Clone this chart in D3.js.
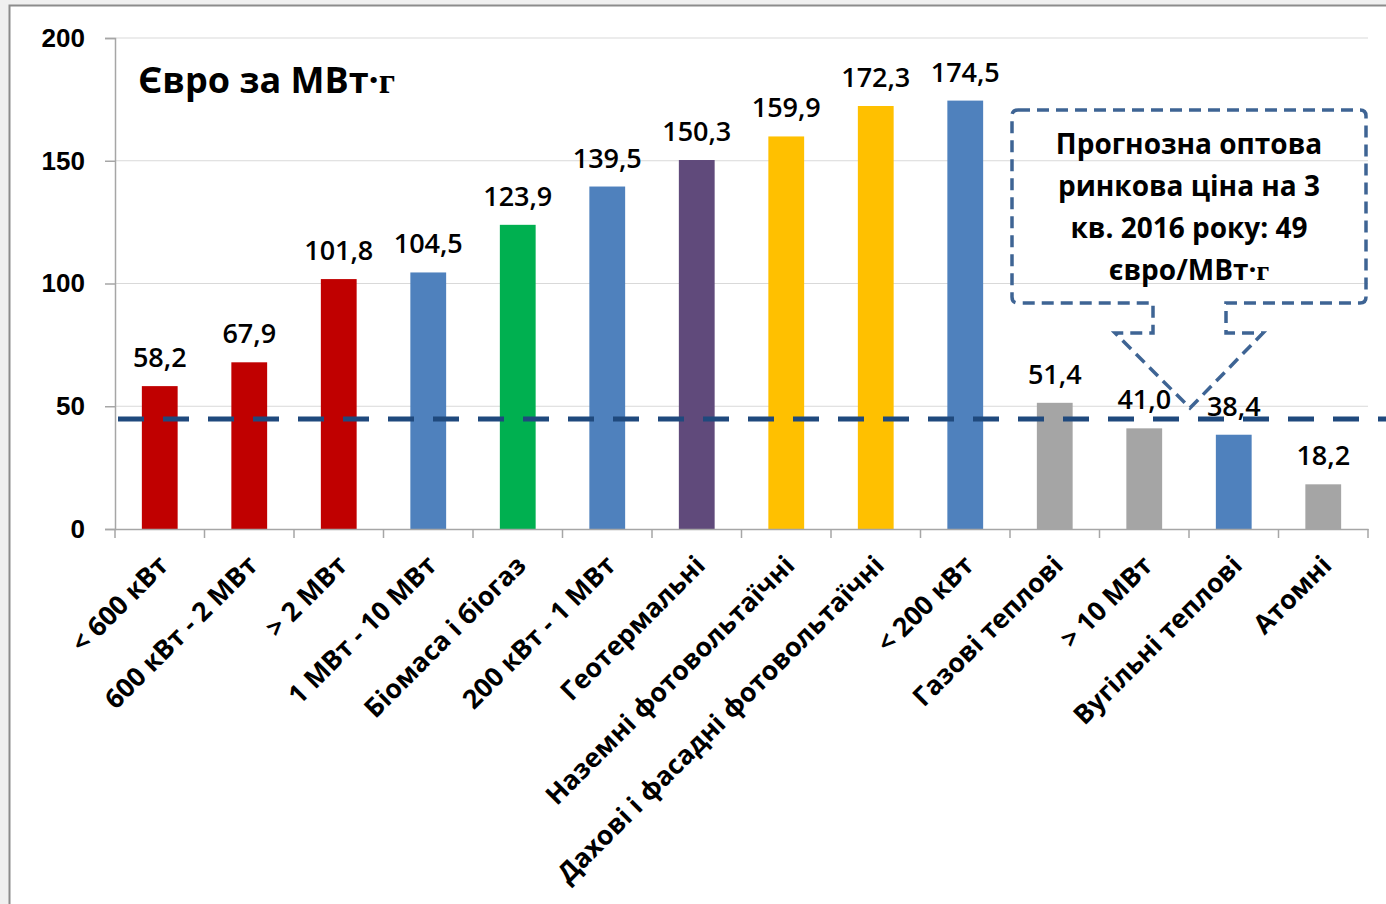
<!DOCTYPE html>
<html>
<head>
<meta charset="utf-8">
<script src="https://cdn.jsdelivr.net/npm/d3@7"></script>
<style>
  body { margin:0; background:#f0f0f0; }
  svg { display:block; font-family:"Open Sans", "Noto Sans", sans-serif; }
</style>
</head>
<body>
<svg id="chart" width="1386" height="904"></svg>
<script>
var categories = ["< 600 кВт", "600 кВт - 2 МВт", "> 2 МВт", "1 МВт - 10 МВт", "Біомаса і біогаз",
                  "200 кВт - 1 МВт", "Геотермальні", "Наземні фотовольтаїчні", "Дахові і фасадні фотовольтаїчні",
                  "< 200 кВт", "Газові теплові", "> 10 МВт", "Вугільні теплові", "Атомні"]
var values = [58.2, 67.9, 101.8, 104.5, 123.9, 139.5, 150.3, 159.9, 172.3, 174.5, 51.4, 41.0, 38.4, 18.2]
var groups = ["red", "red", "red", "blue", "green", "blue", "purple", "yellow", "yellow", "blue", "gray", "gray", "blue", "gray"]
var yTicks = [0, 50, 100, 150, 200]
var priceLine = 44.8
var calloutLines = ["Прогнозна оптова", "ринкова ціна на 3", "кв. 2016 року: 49", "євро/МВт·г"]

var palette = {red:"#c00000", blue:"#4f81bd", green:"#00b050", purple:"#604a7b", yellow:"#ffc000", gray:"#a5a5a5"}

var svg = d3.select("#chart")
var margin = {top:38, left:115, right:18, bottom:375}
var W = 1386, H = 904

// chart frame
svg.append("rect").attr("x", 9.5).attr("y", 5.5).attr("width", W).attr("height", H)
   .attr("fill", "white").attr("stroke", "#8c8c8c").attr("stroke-width", 2)

var x = d3.scaleBand().domain(categories).range([margin.left, W - margin.right]).paddingInner(0).paddingOuter(0)
var y = d3.scaleLinear().domain([0, 200]).range([529, margin.top])

// gridlines
svg.append("g").selectAll("line").data(yTicks.slice(1)).enter().append("line")
   .attr("x1", margin.left).attr("x2", W - margin.right)
   .attr("y1", function(d){ return y(d) }).attr("y2", function(d){ return y(d) })
   .attr("stroke", "#d9d9d9").attr("stroke-width", 1.2)

// y axis
var yAxis = svg.append("g").attr("transform", "translate(" + margin.left + ",0)")
   .call(d3.axisLeft(y).tickValues(yTicks).tickSize(10).tickPadding(20))
yAxis.select(".domain").attr("stroke", "#a6a6a6").attr("stroke-width", 1.5)
yAxis.selectAll(".tick line").attr("stroke", "#a6a6a6").attr("stroke-width", 1.5)
yAxis.selectAll(".tick text").attr("font-size", 26).attr("font-weight", 600).attr("fill", "#000")

// bars
svg.append("g").selectAll("rect").data(values).enter().append("rect")
   .attr("x", function(d, i){ return x(categories[i]) + x.bandwidth() * 0.3 })
   .attr("width", x.bandwidth() * 0.4)
   .attr("y", function(d){ return y(d) })
   .attr("height", function(d){ return y(0) - y(d) })
   .attr("fill", function(d, i){ return palette[groups[i]] })

// x axis
var xAxis = svg.append("g").attr("transform", "translate(0," + y(0) + ")")
   .call(d3.axisBottom(x).tickSize(0).tickFormat(""))
xAxis.select(".domain").attr("stroke", "#a6a6a6").attr("stroke-width", 1.5)
svg.append("g").selectAll("line").data(d3.range(categories.length + 1)).enter().append("line")
   .attr("x1", function(i){ return margin.left + i * x.step() })
   .attr("x2", function(i){ return margin.left + i * x.step() })
   .attr("y1", y(0)).attr("y2", y(0) + 9)
   .attr("stroke", "#a6a6a6").attr("stroke-width", 1.5)

// category labels
svg.append("g").selectAll("text").data(categories).enter().append("text")
   .attr("transform", function(d){ return "translate(" + (x(d) + x.bandwidth() / 2 + 10) + "," + (y(0) + 38) + ") rotate(-45)" })
   .attr("text-anchor", "end")
   .attr("font-size", 26.5).attr("font-weight", 700)
   .text(function(d){ return d })

// value labels
svg.append("g").selectAll("text").data(values).enter().append("text")
   .attr("x", function(d, i){ return x(categories[i]) + x.bandwidth() / 2 })
   .attr("y", function(d){ return y(d) - 19 })
   .attr("text-anchor", "middle").attr("font-size", 27).attr("font-weight", 600)
   .text(function(d){ return d3.format(".1f")(d).replace(".", ",") })

// price line
svg.append("line").attr("x1", margin.left + 3).attr("x2", W)
   .attr("y1", y(priceLine)).attr("y2", y(priceLine))
   .attr("stroke", "#1f497d").attr("stroke-width", 5).attr("stroke-dasharray", "26,19")

// title
var title = svg.append("text").attr("x", 138).attr("y", 93).attr("font-size", 36).attr("font-weight", 700)
title.append("tspan").text("Євро за МВт·")
title.append("tspan").attr("font-family", "Liberation Serif, serif").text("г")

// callout
var bx0 = 1012, bx1 = 1366, by0 = 110, by1 = 303
var tipX = 1190, tipY = y(priceLine) - 11
var path = d3.path()
path.moveTo(bx0 + 6, by0)
path.lineTo(bx1 - 6, by0); path.quadraticCurveTo(bx1, by0, bx1, by0 + 6)
path.lineTo(bx1, by1 - 6); path.quadraticCurveTo(bx1, by1, bx1 - 6, by1)
path.lineTo(1226, by1); path.lineTo(1226, 333); path.lineTo(1263, 333)
path.lineTo(tipX, tipY)
path.lineTo(1115, 333); path.lineTo(1153, 333); path.lineTo(1153, by1)
path.lineTo(bx0 + 6, by1); path.quadraticCurveTo(bx0, by1, bx0, by1 - 6)
path.lineTo(bx0, by0 + 6); path.quadraticCurveTo(bx0, by0, bx0 + 6, by0)
path.closePath()
svg.append("path").attr("d", path.toString()).attr("fill", "none")
   .attr("stroke", "#3e6494").attr("stroke-width", 3.5).attr("stroke-dasharray", "12,7")

var callout = svg.append("g")
calloutLines.forEach(function(line, i){
  var t = callout.append("text").attr("x", 1189).attr("y", 154 + i * 42)
     .attr("text-anchor", "middle").attr("font-size", 28).attr("font-weight", 700)
  if (i == 3) {
    t.append("tspan").text("євро/МВт·")
    t.append("tspan").attr("font-family", "Liberation Serif, serif").text("г")
  } else t.text(line)
})
</script>
</body>
</html>
